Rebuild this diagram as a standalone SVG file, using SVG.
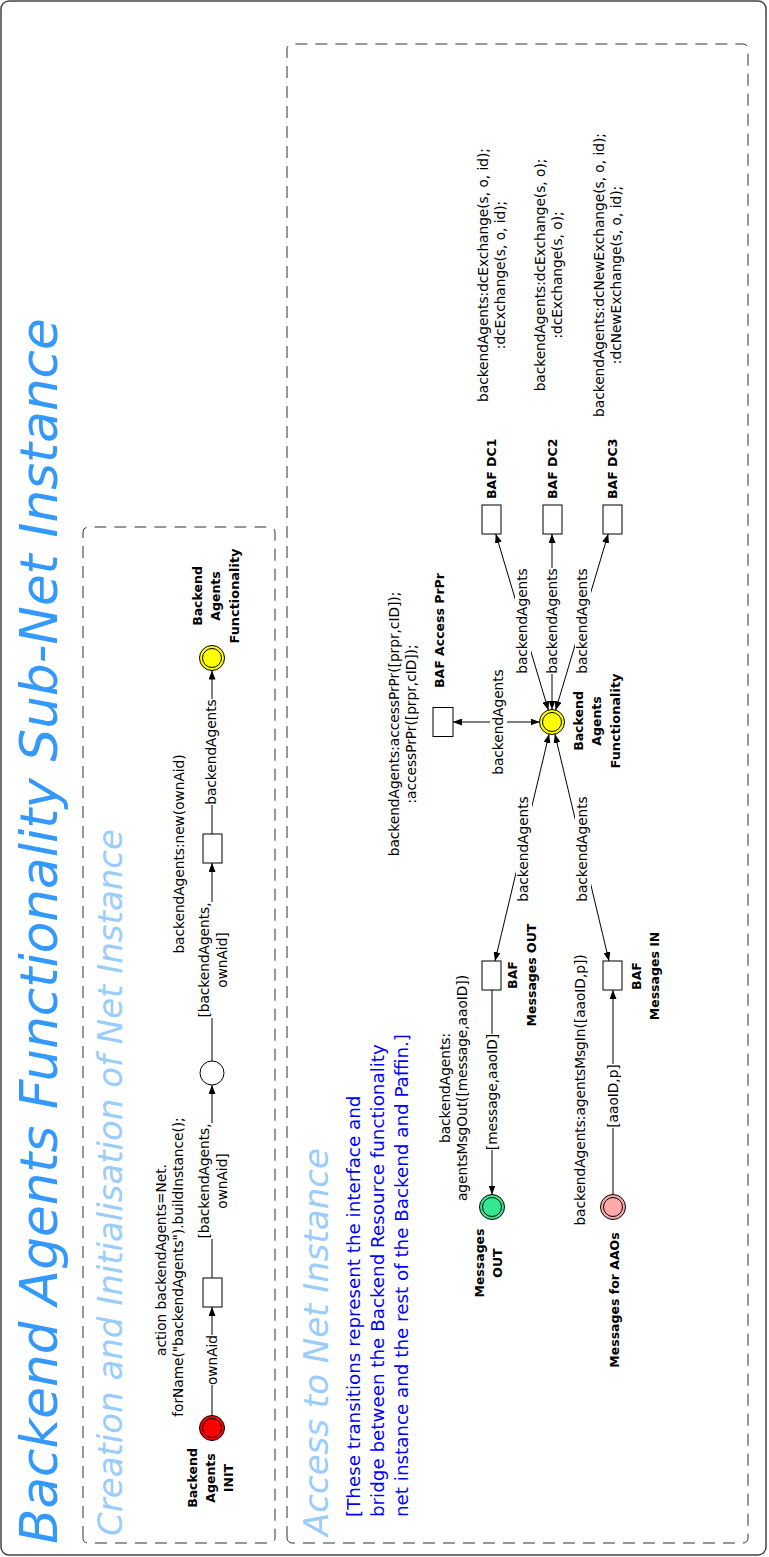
<svg xmlns="http://www.w3.org/2000/svg" width="769" height="1557" viewBox="0 0 769 1557">
  <style>
    text { font-family: "DejaVu Sans", "Liberation Sans", sans-serif; fill: #000; }
    .lbl { font-size: 13.7px; }
    .bold { font-size: 12.5px; font-weight: bold; }
    .c { text-anchor: middle; }
    .title { font-size: 51.6px; font-style: oblique; fill: #3399ff; }
    .sub { font-size: 34px; font-style: oblique; fill: #99ccff; }
    .note { font-size: 18.3px; fill: #0000ff; }
    .frame { fill: #fff; stroke: #444; stroke-width: 1.5; }
    .area { fill: none; stroke: #333; stroke-width: 1; stroke-dasharray: 12 8; }
    .trans { fill: #fff; stroke: #000; stroke-width: 1; }
    .ring { fill: none; stroke: #000; stroke-width: 1; }
    .arc { fill: none; stroke: #000; stroke-width: 1; }
    .arc1 { marker-end: url(#ah); }
    .arc2 { marker-start: url(#ah); marker-end: url(#ah); }
    .bg { fill: #fff; }
  </style>
  <defs>
    <marker id="ah" viewBox="0 0 9 7" refX="9" refY="3.5" markerWidth="9" markerHeight="7" markerUnits="userSpaceOnUse" orient="auto-start-reverse">
      <path d="M0,0 L9,3.5 L0,7 z" fill="#000"/>
    </marker>
  </defs>

  <!-- whole net is laid out landscape and turned to portrait -->
  <g transform="translate(0,1557) rotate(-90)">
    <rect class="frame" x="2" y="1" width="1554" height="765" rx="8"/>
    <rect class="area" x="14" y="83" width="1016" height="192" rx="5"/>
    <rect class="area" x="14" y="287" width="1499" height="461" rx="5"/>

    <text class="title" x="13" y="57">Backend Agents Functionality Sub-Net Instance</text>
    <text class="sub" x="21" y="122">Creation and Initialisation of Net Instance</text>
    <text class="sub" x="21" y="328">Access to Net Instance</text>
    <text class="note" x="40" y="360">[These transitions represent the interface and</text>
    <text class="note" x="40" y="384">bridge between the Backend Resource functionality</text>
    <text class="note" x="40" y="408">net instance and the rest of the Backend and Paffin.]</text>

    <!-- arcs -->
    <g id="connectors">
      <line class="arc arc1" x1="141" y1="212" x2="250" y2="212"/>
      <line class="arc arc1" x1="279" y1="212" x2="472" y2="212"/>
      <line class="arc arc1" x1="496" y1="212" x2="694" y2="212"/>
      <line class="arc arc1" x1="723" y1="212" x2="886.5" y2="212"/>

      <line class="arc arc1" x1="567" y1="492" x2="362.5" y2="492"/>
      <line class="arc arc1" x1="362.5" y1="613" x2="567" y2="613"/>

      <line class="arc arc2" x1="835" y1="539.5" x2="835" y2="453"/>
      <line class="arc arc2" x1="846.8" y1="548.4" x2="1023" y2="495.8"/>
      <line class="arc arc2" x1="847.5" y1="552" x2="1023" y2="552"/>
      <line class="arc arc2" x1="846.8" y1="555.6" x2="1023" y2="608.2"/>
      <line class="arc arc2" x1="822.9" y1="549.1" x2="596" y2="495"/>
      <line class="arc arc2" x1="822.9" y1="554.9" x2="596" y2="609"/>

      <!-- arc inscriptions -->
      <rect class="bg" x="172" y="205" width="50" height="15"/>
      <text class="lbl c" x="197" y="217">ownAid</text>
      <rect class="bg" x="318" y="198" width="116" height="33"/>
      <text class="lbl c" x="376" y="209">[backendAgents,</text>
      <text class="lbl c" x="376" y="227">ownAid]</text>
      <rect class="bg" x="539" y="198" width="116" height="33"/>
      <text class="lbl c" x="597" y="209">[backendAgents,</text>
      <text class="lbl c" x="597" y="227">ownAid]</text>
      <rect class="bg" x="752" y="204" width="106" height="16"/>
      <text class="lbl c" x="805" y="216">backendAgents</text>

      <rect class="bg" x="407" y="484" width="116" height="16"/>
      <text class="lbl c" x="465" y="496.5">[message,aaoID]</text>
      <rect class="bg" x="429" y="605" width="64" height="16"/>
      <text class="lbl c" x="461" y="617.5">[aaoID,p]</text>

      <rect class="bg" x="782" y="490" width="106" height="17"/>
      <text class="lbl c" x="835" y="503">backendAgents</text>
      <rect class="bg" x="883" y="515" width="106" height="16"/>
      <text class="lbl c" x="936" y="526.5">backendAgents</text>
      <rect class="bg" x="883" y="545" width="106" height="16"/>
      <text class="lbl c" x="936" y="556.5">backendAgents</text>
      <rect class="bg" x="883" y="575" width="106" height="16"/>
      <text class="lbl c" x="936" y="586.5">backendAgents</text>
      <rect class="bg" x="655" y="516" width="106" height="16"/>
      <text class="lbl c" x="708" y="527.5">backendAgents</text>
      <rect class="bg" x="655" y="575" width="106" height="16"/>
      <text class="lbl c" x="708" y="586.5">backendAgents</text>
    </g>

    <!-- creation and initialisation -->
    <g id="p-init">
      <circle cx="129" cy="212" r="12.5" fill="#ff0000" stroke="#000"/>
      <circle class="ring" cx="129" cy="212" r="9.5"/>
      <text class="bold c" x="79" y="197">Backend</text>
      <text class="bold c" x="79" y="215">Agents</text>
      <text class="bold c" x="79" y="233">INIT</text>
    </g>
    <g id="t-build">
      <rect class="trans" x="250" y="203" width="29" height="19"/>
      <text class="lbl c" x="297" y="166">action backendAgents=Net.</text>
      <text class="lbl c" x="290" y="183">forName("backendAgents").buildInstance();</text>
    </g>
    <g id="p-instance">
      <circle cx="484" cy="212" r="12" fill="#fff" stroke="#000"/>
    </g>
    <g id="t-new">
      <rect class="trans" x="694" y="203" width="29" height="19"/>
      <text class="lbl c" x="703" y="184">backendAgents:new(ownAid)</text>
    </g>
    <g id="p-functionality-1">
      <circle cx="899" cy="212" r="12.5" fill="#ffff00" stroke="#000"/>
      <circle class="ring" cx="899" cy="212" r="9.5"/>
      <text class="bold c" x="961" y="202">Backend</text>
      <text class="bold c" x="961" y="220">Agents</text>
      <text class="bold c" x="961" y="239" textLength="95" lengthAdjust="spacingAndGlyphs">Functionality</text>
    </g>

    <!-- access to net instance -->
    <g id="p-messages-out">
      <circle cx="350" cy="492" r="12.5" fill="#33e891" stroke="#000"/>
      <circle class="ring" cx="350" cy="492" r="9.5"/>
      <text class="bold c" x="294" y="484">Messages</text>
      <text class="bold c" x="294" y="502">OUT</text>
    </g>
    <g id="p-messages-aao">
      <circle cx="350" cy="613" r="12.5" fill="#ffaaaa" stroke="#000"/>
      <circle class="ring" cx="350" cy="613" r="9.5"/>
      <text class="bold c" x="257" y="619">Messages for AAOs</text>
    </g>
    <g id="t-baf-out">
      <rect class="trans" x="567" y="482" width="29" height="19"/>
      <text class="bold c" x="582" y="517">BAF</text>
      <text class="bold c" x="582" y="536">Messages OUT</text>
      <text class="lbl c" x="469" y="450">backendAgents:</text>
      <text class="lbl c" x="469" y="467">agentsMsgOut([message,aaoID])</text>
    </g>
    <g id="t-baf-in">
      <rect class="trans" x="567" y="603" width="29" height="19"/>
      <text class="bold c" x="581" y="641">BAF</text>
      <text class="bold c" x="581" y="659">Messages IN</text>
      <text class="lbl c" x="467" y="585">backendAgents:agentsMsgIn([aaoID,p])</text>
    </g>
    <g id="t-baf-access">
      <rect class="trans" x="820.5" y="433" width="29" height="20"/>
      <text class="bold" x="869" y="444">BAF Access PrPr</text>
      <text class="lbl c" x="833" y="399">backendAgents:accessPrPr([prpr,cID]);</text>
      <text class="lbl c" x="833" y="416">:accessPrPr([prpr,cID]);</text>
    </g>
    <g id="p-functionality-2">
      <circle cx="835" cy="552" r="12.5" fill="#ffff00" stroke="#000"/>
      <circle class="ring" cx="835" cy="552" r="9.5"/>
      <text class="bold c" x="836" y="583">Backend</text>
      <text class="bold c" x="836" y="601">Agents</text>
      <text class="bold c" x="836" y="620" textLength="95" lengthAdjust="spacingAndGlyphs">Functionality</text>
    </g>
    <g id="t-baf-dc1">
      <rect class="trans" x="1023" y="482" width="29" height="19"/>
      <text class="bold" x="1058" y="496">BAF DC1</text>
      <text class="lbl c" x="1282" y="488">backendAgents:dcExchange(s, o, id);</text>
      <text class="lbl c" x="1282" y="505">:dcExchange(s, o, id);</text>
    </g>
    <g id="t-baf-dc2">
      <rect class="trans" x="1023" y="543" width="29" height="19"/>
      <text class="bold" x="1058" y="557">BAF DC2</text>
      <text class="lbl c" x="1282" y="545">backendAgents:dcExchange(s, o);</text>
      <text class="lbl c" x="1282" y="562">:dcExchange(s, o);</text>
    </g>
    <g id="t-baf-dc3">
      <rect class="trans" x="1023" y="603" width="29" height="19"/>
      <text class="bold" x="1058" y="617">BAF DC3</text>
      <text class="lbl c" x="1282" y="604">backendAgents:dcNewExchange(s, o, id);</text>
      <text class="lbl c" x="1282" y="621">:dcNewExchange(s, o, id);</text>
    </g>
  </g>
</svg>
